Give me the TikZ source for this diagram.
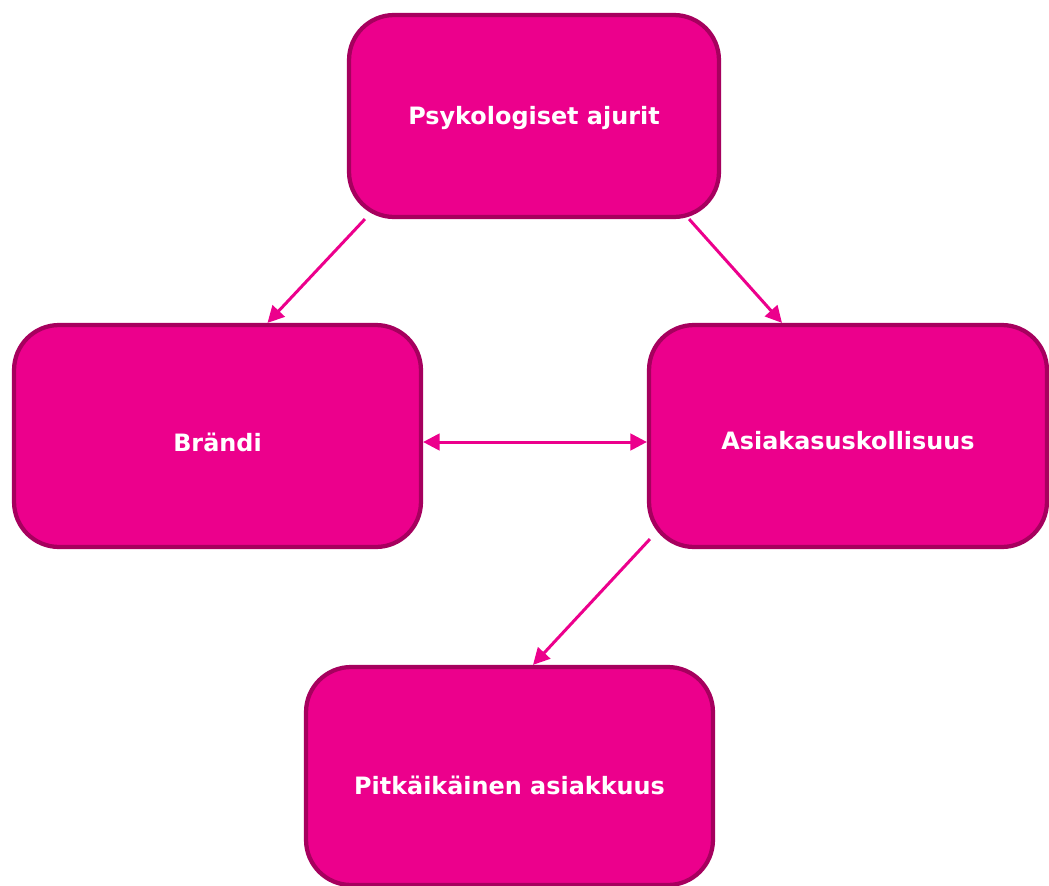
\documentclass[tikz,border=0pt]{standalone}
\usepackage{fontspec}
\setmainfont{DejaVu Sans}
\usepackage{xcolor}
\usetikzlibrary{shapes,arrows.meta,positioning,calc}

\definecolor{magenta}{HTML}{EC008C}
\definecolor{magentadark}{HTML}{A6005E}

\begin{document}
\begin{tikzpicture}[x=0.02cm, y=-0.02cm,
  laatikko/.style={rectangle, rounded corners=0.9cm, draw=magentadark, line width=0.085cm, fill=magenta, text=white, text depth=0pt, font=\fontsize{13.6}{16}\selectfont\bfseries},
  nuoli/.style={draw=magenta, line width=0.06cm, -{Triangle[length=0.33cm,width=0.33cm]}}]
\useasboundingbox (0,0) rectangle (1049,886);

\node[laatikko, minimum width=7.4cm, minimum height=4.04cm, text height=10.2pt] (psy) at (534,116) {Psykologiset ajurit};
\node[laatikko, minimum width=8.14cm, minimum height=4.44cm, text height=17.1pt] (brandi) at (217.5,436) {Brändi};
\node[laatikko, minimum width=7.96cm, minimum height=4.44cm, text height=14.8pt] (uskoll) at (848,436) {Asiakasuskollisuus};
\node[laatikko, minimum width=8.14cm, minimum height=4.36cm, text height=21.6pt] (pitka) at (509.5,776) {Pitkäikäinen asiakkuus};

\draw[nuoli] ([xshift=0.36cm]psy.south west) -- ([xshift=1cm]brandi.north);
\draw[nuoli] ([xshift=-0.64cm]psy.south east) -- ([xshift=-1.32cm]uskoll.north);
\draw[nuoli, {Triangle[length=0.33cm,width=0.33cm]}-{Triangle[length=0.33cm,width=0.33cm]}] ([yshift=-0.12cm]brandi.east) -- ([yshift=-0.12cm]uskoll.west);
\draw[nuoli] ([shift={(0.06cm,0.2cm)}]uskoll.south west) -- ([xshift=0.47cm]pitka.north);
\end{tikzpicture}
\end{document}
